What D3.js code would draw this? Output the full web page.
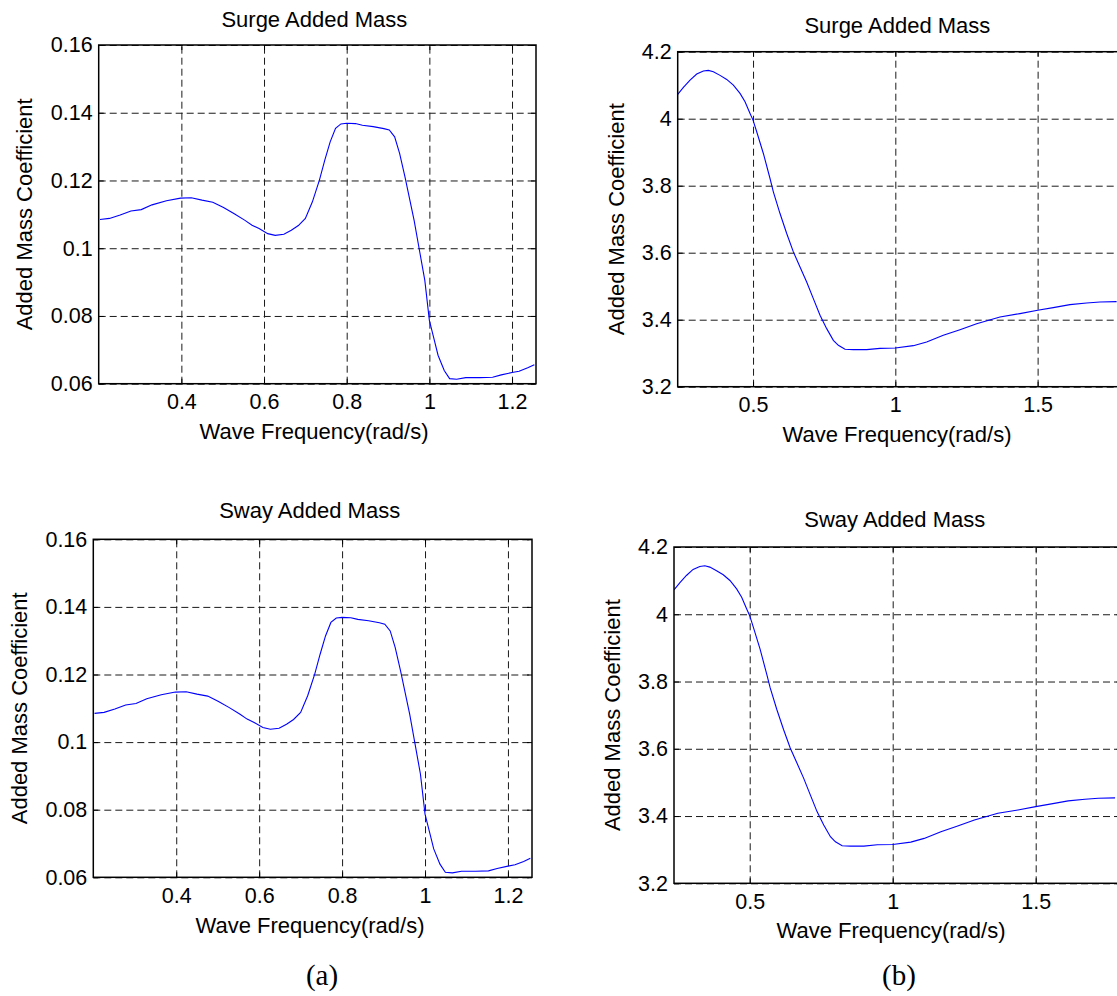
<!DOCTYPE html>
<html>
<head>
<meta charset="utf-8">
<script src="https://cdn.jsdelivr.net/npm/d3@7"></script>
<style>
  body { margin: 0; background: #fff; }
  svg { display: block; }
</style>
</head>
<body>
<script>
// panel (a): wave frequency (rad/s) vs added mass coefficient
const freqA = [0.203, 0.226, 0.252, 0.278, 0.303, 0.329, 0.364, 0.398, 0.424, 0.45, 0.476, 0.502,
  0.528, 0.553, 0.571, 0.588, 0.609, 0.627, 0.648, 0.666, 0.683, 0.7, 0.717, 0.734, 0.747, 0.76,
  0.773, 0.786, 0.8, 0.821, 0.838, 0.864, 0.89, 0.903, 0.916, 0.928, 0.941, 0.963, 0.976, 0.989,
  1.0, 1.01, 1.021, 1.036, 1.049, 1.066, 1.088, 1.122, 1.153, 1.174, 1.2, 1.217, 1.238, 1.254];
const surgeA = [0.1085, 0.1088, 0.1098, 0.111, 0.1114, 0.1128, 0.114, 0.1148, 0.1149, 0.1142, 0.1136, 0.112,
  0.1102, 0.1083, 0.1068, 0.1058, 0.1043, 0.1038, 0.1041, 0.1053, 0.1067, 0.1088, 0.1137, 0.1201, 0.126, 0.1314,
  0.1354, 0.1367, 0.1369, 0.1368, 0.1363, 0.1359, 0.1353, 0.1349, 0.1329, 0.128, 0.1211, 0.1083, 0.0994, 0.0905,
  0.0787, 0.0738, 0.0684, 0.0639, 0.0615, 0.0613, 0.0618, 0.0618, 0.0619, 0.0626, 0.0633, 0.0637, 0.0647, 0.0656];
// the sway curve in (a) is drawn identical to surge
const swayA = surgeA.slice();

// panel (b)
const freqB = [0.2354, 0.2553, 0.2787, 0.3021, 0.3255, 0.3431, 0.3607, 0.3841, 0.4075, 0.4309, 0.4543, 0.4719,
  0.4895, 0.5, 0.5129, 0.5363, 0.5597, 0.5714, 0.5948, 0.6183, 0.6417, 0.6651, 0.6885, 0.7119, 0.7354, 0.7588,
  0.7822, 0.7998, 0.8232, 0.8525, 0.8993, 0.9461, 1.0, 1.0632, 1.11, 1.1686, 1.2272, 1.2857, 1.3677, 1.4379,
  1.5, 1.555, 1.6136, 1.6721, 1.719, 1.7775];
const surgeB = [4.0725, 4.0934, 4.1153, 4.1333, 4.1422, 4.1442, 4.1402, 4.1293, 4.1173, 4.1004, 4.0755, 4.0506,
  4.0157, 3.9958, 3.961, 3.8962, 3.8215, 3.7817, 3.7169, 3.6572, 3.6024, 3.5576, 3.5127, 3.463, 3.4132, 3.3733,
  3.3385, 3.3235, 3.3116, 3.3106, 3.3106, 3.3145, 3.3155, 3.3225, 3.3335, 3.3534, 3.3703, 3.3882, 3.4082, 3.4182,
  3.4281, 3.4361, 3.445, 3.45, 3.453, 3.454];
const swayB = surgeB.slice();

const xTicksA = [0.4, 0.6, 0.8, 1, 1.2];
const yTicksA = [0.06, 0.08, 0.1, 0.12, 0.14, 0.16];
const xTicksB = [0.5, 1, 1.5];
const yTicksB = [3.2, 3.4, 3.6, 3.8, 4, 4.2];

const FONT = "Arial, 'Liberation Sans', Helvetica, sans-serif";

class MassPanel {
    constructor(svg, opt) {
        this.svg = svg;
        this.opt = opt;
        this.w = opt.right - opt.left;
        this.h = opt.bottom - opt.top;
        this.x = d3.scaleLinear().domain(opt.xDomain).range([0, this.w]);
        this.y = d3.scaleLinear().domain(opt.yDomain).range([this.h, 0]);
        this.g = null;
    }

    construct_frame(self = this) {
        self.g = self.svg.append("g")
            .attr("transform", "translate(" + self.opt.left + "," + self.opt.top + ")");
        self.g.append("clipPath").attr("id", self.opt.id + "_clip")
            .append("rect").attr("width", self.w).attr("height", self.h);
    }

    construct_grid(self = this) {
        // dashed grid, drawn with the axis generators
        var gx = self.g.append("g").attr("transform", "translate(0," + self.h + ")")
            .call(d3.axisBottom(self.x).tickValues(self.opt.xTicks).tickSize(-self.h).tickFormat(""));
        var gy = self.g.append("g")
            .call(d3.axisLeft(self.y).tickValues(self.opt.yTicks).tickSize(-self.w).tickFormat(""));
        [gx, gy].forEach(function (a) {
            a.select(".domain").remove();
            a.selectAll("line").attr("stroke", "#1a1a1a").attr("stroke-width", 1)
                .attr("stroke-dasharray", "7,4");
        });
    }

    construct_ticks(self = this) {
        var len = 5;
        var sides = [
            [d3.axisBottom(self.x).tickValues(self.opt.xTicks), 0, self.h],
            [d3.axisTop(self.x).tickValues(self.opt.xTicks), 0, 0],
            [d3.axisLeft(self.y).tickValues(self.opt.yTicks), 0, 0],
            [d3.axisRight(self.y).tickValues(self.opt.yTicks), self.w, 0]
        ];
        sides.forEach(function (s) {
            var a = self.g.append("g").attr("transform", "translate(" + s[1] + "," + s[2] + ")")
                .call(s[0].tickSize(-len).tickFormat(""));
            a.select(".domain").remove();
            a.selectAll("line").attr("stroke", "#000");
        });
    }

    construct_labels(self = this) {
        var xa = self.g.append("g").attr("transform", "translate(0," + self.h + ")")
            .call(d3.axisBottom(self.x).tickValues(self.opt.xTicks).tickSize(0).tickPadding(10)
                .tickFormat(function (d) { return String(d); }));
        var ya = self.g.append("g")
            .call(d3.axisLeft(self.y).tickValues(self.opt.yTicks).tickSize(0).tickPadding(6)
                .tickFormat(function (d) { return String(d); }));
        [xa, ya].forEach(function (a) {
            a.select(".domain").remove();
            a.attr("font-family", FONT).attr("font-size", 21.5);
            a.selectAll("text").attr("fill", "#000");
        });

        self.svg.append("text")
            .attr("x", self.opt.left + self.w / 2 - 3).attr("y", self.opt.titleY)
            .attr("text-anchor", "middle").attr("font-family", FONT).attr("font-size", 22)
            .text(self.opt.title);
        self.svg.append("text")
            .attr("x", self.opt.xlabelX).attr("y", self.opt.xlabelY)
            .attr("text-anchor", "middle").attr("font-family", FONT).attr("font-size", 22)
            .text("Wave Frequency(rad/s)");
        self.svg.append("text")
            .attr("transform", "translate(" + self.opt.ylabelX + "," + (self.opt.top + self.h / 2) + ") rotate(-90)")
            .attr("text-anchor", "middle").attr("font-family", FONT).attr("font-size", 22)
            .text("Added Mass Coefficient");
    }

    construct_line(self = this) {
        var xs = self.opt.freq, ys = self.opt.values;
        var line = d3.line()
            .x(function (d, i) { return self.x(xs[i]); })
            .y(function (d, i) { return self.y(ys[i]); });
        self.g.append("path")
            .datum(ys)
            .attr("clip-path", "url(#" + self.opt.id + "_clip)")
            .attr("fill", "none")
            .attr("stroke", "#0000ff")
            .attr("stroke-width", 1.1)
            .attr("d", line);
    }

    construct_box(self = this) {
        self.g.append("rect")
            .attr("width", self.w).attr("height", self.h)
            .attr("fill", "none").attr("stroke", "#000").attr("stroke-width", 1.5);
    }

    build() {
        this.construct_frame();
        this.construct_grid();
        this.construct_ticks();
        this.construct_line();
        this.construct_box();
        this.construct_labels();
    }
}

const svg = d3.select("body").append("svg")
    .attr("width", 1117).attr("height", 996)
    .style("background", "#fff");

const panels = [
    { id: "p1", title: "Surge Added Mass", freq: freqA, values: surgeA,
      left: 98.7, top: 45, right: 536, bottom: 383.7, xDomain: [0.2, 1.258], yDomain: [0.06, 0.16],
      xTicks: xTicksA, yTicks: yTicksA, titleY: 27, xlabelX: 314, xlabelY: 439, ylabelX: 32 },
    { id: "p2", title: "Surge Added Mass", freq: freqB, values: surgeB,
      left: 677.7, top: 51.7, right: 1123, bottom: 386.7, xDomain: [0.2353, 1.8], yDomain: [3.2, 4.2],
      xTicks: xTicksB, yTicks: yTicksB, titleY: 32.7, xlabelX: 897, xlabelY: 442, ylabelX: 624 },
    { id: "p3", title: "Sway Added Mass", freq: freqA, values: swayA,
      left: 93.3, top: 539.3, right: 532, bottom: 877.3, xDomain: [0.2, 1.258], yDomain: [0.06, 0.16],
      xTicks: xTicksA, yTicks: yTicksA, titleY: 518.3, xlabelX: 310, xlabelY: 933, ylabelX: 27 },
    { id: "p4", title: "Sway Added Mass", freq: freqB, values: swayB,
      left: 674, top: 547, right: 1121.5, bottom: 883.3, xDomain: [0.2353, 1.8], yDomain: [3.2, 4.2],
      xTicks: xTicksB, yTicks: yTicksB, titleY: 527.3, xlabelX: 891, xlabelY: 938, ylabelX: 620 }
];

panels.forEach(function (p) { new MassPanel(svg, p).build(); });

// sub-figure captions
svg.append("text").attr("x", 322).attr("y", 985).attr("text-anchor", "middle")
    .attr("font-family", "'Liberation Serif', 'Times New Roman', serif").attr("font-size", 29).text("(a)");
svg.append("text").attr("x", 899).attr("y", 985).attr("text-anchor", "middle")
    .attr("font-family", "'Liberation Serif', 'Times New Roman', serif").attr("font-size", 29).text("(b)");
</script>
</body>
</html>
